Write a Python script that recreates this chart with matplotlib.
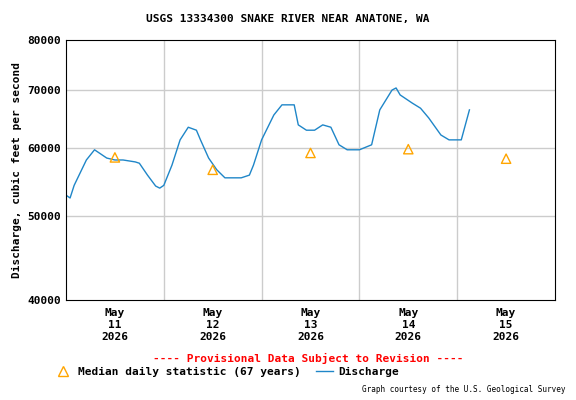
import numpy as np
import matplotlib
matplotlib.use('Agg')
import matplotlib.pyplot as plt
from matplotlib.ticker import FixedLocator, NullLocator, FixedFormatter

# hours since 2026-05-10 12:00
hours = [0, 1, 2, 5, 7, 10, 12, 14, 17, 18, 20, 22, 23, 24, 26, 28, 30, 32, 33, 35,
         37, 39, 43, 45, 46, 48, 51, 53, 56, 57, 59, 61, 63, 65, 67, 69, 72, 75, 77,
         80, 81, 82, 85, 87, 89, 92, 94, 97, 98, 99]
flow = [52900, 52500, 54300, 58100, 59700, 58400, 58100, 58100, 57800, 57600,
        55800, 54200, 53900, 54300, 57300, 61300, 63400, 62900, 61300, 58400,
        56600, 55400, 55400, 55800, 57300, 61300, 65500, 67300, 67300, 63800,
        62900, 62900, 63800, 63400, 60500, 59700, 59700, 60500, 66400, 70000,
        70400, 69100, 67600, 66700, 65000, 62100, 61300, 61300, 63800, 66400]

median_hours = [12, 36, 60, 84, 108]
median_flow = [58500, 56600, 59200, 59800, 58300]
day_labels = ['May\n11\n2026', 'May\n12\n2026', 'May\n13\n2026', 'May\n14\n2026', 'May\n15\n2026']
midnights = [24, 48, 72, 96]

font = 'DejaVu Sans Mono'
fs = 8
fig = plt.figure(figsize=(5.76, 4), dpi=100)
ax = fig.add_axes([66/576, 0.25, 489/576, 0.65])
ax.plot(hours, flow, color='#1f86c8', lw=1)
ax.scatter(median_hours, median_flow, marker='^', s=45, facecolors='none',
           edgecolors='orange', linewidths=1, zorder=3)

ax.set_yscale('log')
ax.set_ylim(40000, 80000)
ax.set_xlim(0, 120)
yt = [40000, 50000, 60000, 70000, 80000]
ax.yaxis.set_major_locator(FixedLocator(yt))
ax.yaxis.set_major_formatter(FixedFormatter([str(v) for v in yt]))
ax.yaxis.set_minor_locator(NullLocator())
ax.set_xticks(median_hours)
ax.set_xticklabels(day_labels)
for h in midnights:
    ax.axvline(h, color='#cccccc', lw=1, zorder=0)
for v in [50000, 60000, 70000]:
    ax.axhline(v, color='#cccccc', lw=1, zorder=0)
ax.tick_params(axis='x', which='both', length=0, pad=6)
ax.tick_params(axis='y', length=0)
for lab in ax.get_xticklabels() + ax.get_yticklabels():
    lab.set_fontfamily(font)
    lab.set_fontweight('bold')
    lab.set_fontsize(fs)
ax.set_ylabel('Discharge, cubic feet per second', fontfamily=font,
              fontweight='bold', fontsize=fs)

fig.text(0.5, 1-19/400, 'USGS 13334300 SNAKE RIVER NEAR ANATONE, WA', ha='center',
         va='center', fontfamily=font, fontweight='bold', fontsize=fs)
fig.text(308/576, 1-358/400, '---- Provisional Data Subject to Revision ----', ha='center',
         va='center', color='red', fontfamily=font, fontweight='bold', fontsize=fs)
fig.lines.append(plt.Line2D([63/576], [1-371/400], marker='^', markersize=7, mfc='none',
                            mec='orange', transform=fig.transFigure))
fig.text(78/576, 1-372/400, 'Median daily statistic (67 years)', va='center',
         fontfamily=font, fontweight='bold', fontsize=fs)
fig.lines.append(plt.Line2D([316/576, 333/576], [1-371/400] * 2, color='#1f86c8', lw=1,
                            transform=fig.transFigure))
fig.text(338/576, 1-372/400, 'Discharge', va='center',
         fontfamily=font, fontweight='bold', fontsize=fs)
fig.text(566/576, 1-390/400, 'Graph courtesy of the U.S. Geological Survey', ha='right',
         va='center', fontfamily=font, fontsize=5.5)

fig.savefig('out.png', dpi=100)
